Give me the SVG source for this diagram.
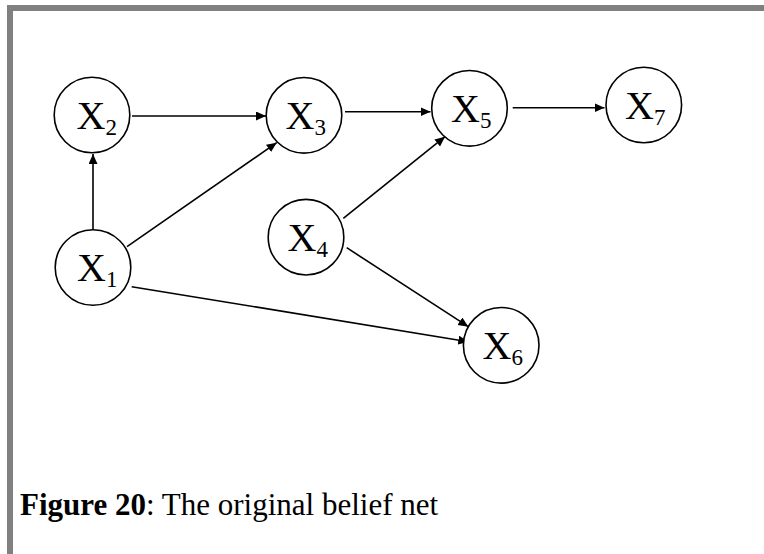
<svg xmlns="http://www.w3.org/2000/svg" width="764" height="554" viewBox="0 0 764 554">
  <style>
    .node circle { fill: #ffffff; stroke: #000000; stroke-width: 1.6; }
    .node text { font-family: "Liberation Serif", "Times New Roman", serif; font-size: 40px; fill: #000000; }
    .node tspan { font-size: 23px; }
    #edges line { stroke: #000000; stroke-width: 1.6; marker-end: url(#arrow); }
    .frame { fill: #808080; }
    .caption { font-family: "Liberation Serif", "Times New Roman", serif; font-size: 31px; fill: #000000; }
  </style>
  <defs>
    <marker id="arrow" markerUnits="userSpaceOnUse" markerWidth="11" markerHeight="10" refX="10" refY="4.5" orient="auto">
      <path d="M0,0 L10,4.5 L0,9 Z" fill="#000000"/>
    </marker>
  </defs>

  <rect width="764" height="554" fill="#ffffff"/>
  <!-- page frame: top and left bars -->
  <rect class="frame" x="7" y="5" width="757" height="6"/>
  <rect class="frame" x="7" y="5" width="6" height="549"/>

  <g id="edges">
    <line x1="93" y1="230" x2="93" y2="154"/>
    <line x1="132" y1="116" x2="266" y2="116"/>
    <line x1="127" y1="246.7" x2="276.7" y2="142.7"/>
    <line x1="131.7" y1="286.7" x2="468.3" y2="341.7"/>
    <line x1="345" y1="111.7" x2="430.5" y2="111.7"/>
    <line x1="512.7" y1="107.7" x2="604.5" y2="107.7"/>
    <line x1="343.3" y1="218.3" x2="445" y2="136.7"/>
    <line x1="346.7" y1="247.7" x2="468.3" y2="326.7"/>
  </g>

  <g id="X1" class="node">
    <circle cx="93" cy="267.5" r="37.8"/>
    <text x="77" y="281">X<tspan dy="6">1</tspan></text>
  </g>
  <g id="X2" class="node">
    <circle cx="92" cy="115" r="37.8"/>
    <text x="76.5" y="129">X<tspan dy="6">2</tspan></text>
  </g>
  <g id="X3" class="node">
    <circle cx="304" cy="115.3" r="37.8"/>
    <text x="285.5" y="129">X<tspan dy="6">3</tspan></text>
  </g>
  <g id="X4" class="node">
    <circle cx="306" cy="237.2" r="37.8"/>
    <text x="287.5" y="251">X<tspan dy="6">4</tspan></text>
  </g>
  <g id="X5" class="node">
    <circle cx="469.5" cy="108.3" r="37.8"/>
    <text x="451" y="122">X<tspan dy="6">5</tspan></text>
  </g>
  <g id="X6" class="node">
    <circle cx="501.2" cy="345.3" r="37.8"/>
    <text x="482.5" y="359">X<tspan dy="6">6</tspan></text>
  </g>
  <g id="X7" class="node">
    <circle cx="643.8" cy="105" r="37.8"/>
    <text x="625" y="119">X<tspan dy="6">7</tspan></text>
  </g>

  <text class="caption" x="20" y="514.5"><tspan font-weight="bold">Figure 20</tspan>: The original belief net</text>
</svg>
